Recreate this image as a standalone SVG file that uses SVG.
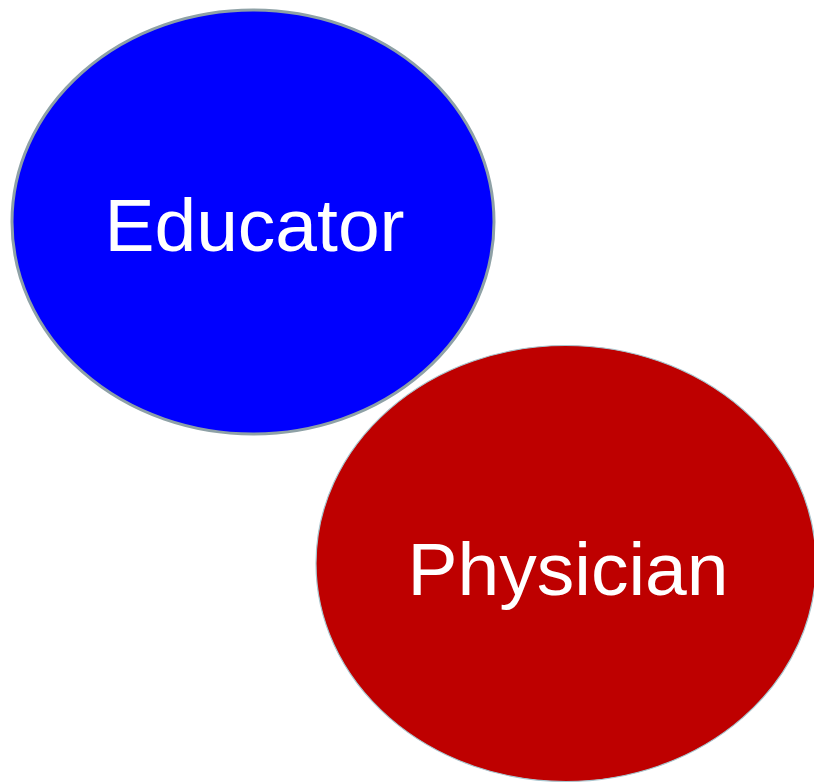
<svg xmlns="http://www.w3.org/2000/svg" width="814" height="783" viewBox="0 0 814 783">
<style>
.lbl{font-family:"Liberation Sans",Arial,sans-serif;font-size:75px;fill:#ffffff;text-anchor:middle}
</style>
<rect width="814" height="783" fill="#ffffff"/>
<g id="educator">
<ellipse cx="253" cy="222" rx="241" ry="212" fill="#0000ff" stroke="#8ea1a6" stroke-width="3"/>
<text class="lbl" x="254.5" y="251">Educator</text>
</g>
<g id="physician">
<ellipse cx="566" cy="563.5" rx="250" ry="218" fill="#be0000" stroke="#a8c6cf" stroke-width="1.2"/>
<text class="lbl" x="568" y="595">Physician</text>
</g>
<g id="connectors"></g>
</svg>
